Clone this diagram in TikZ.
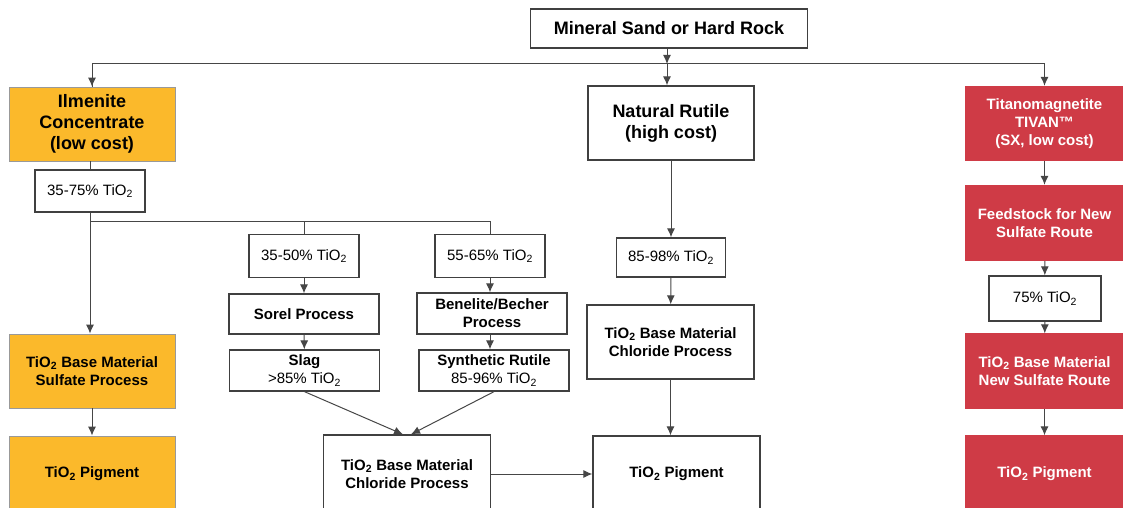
\documentclass[tikz,border=0pt]{standalone}
\usepackage{fontspec}
\setmainfont{Liberation Sans}
\usetikzlibrary{arrows.meta}
\definecolor{ilmorange}{RGB}{251,185,43}
\definecolor{tivred}{RGB}{207,59,70}
\definecolor{wire}{RGB}{70,70,70}
\newcommand{\tio}{TiO\textsubscript{2}}
\tikzset{% styles for the boxes and the arrows
    b/.style={rectangle, draw=black!75, line width=1.3pt, align=center, inner sep=2pt,
      font=\bfseries\fontsize{15}{18}\selectfont},
    bb/.style={b, font=\bfseries\fontsize{18}{21}\selectfont},
    pc/.style={b, font=\fontsize{15}{18}\selectfont, minimum width=110pt, minimum height=43pt},
    wide/.style={minimum width=166pt, minimum height=74pt},
    proc/.style={minimum width=150pt, minimum height=41pt},
    ilm/.style={fill=ilmorange, draw=black!40, line width=0.8pt},
    tiv/.style={fill=tivred, draw=tivred, text=white, minimum width=157pt, minimum height=74pt},
    e/.style={-{Latex[length=9pt, width=8pt]}, line width=1pt, draw=wire},
    w/.style={line width=1pt, draw=wire}}

\begin{document}
\begin{tikzpicture}[x=1pt,y=-1pt]
  \useasboundingbox (0,0) rectangle (1123,508);

  \node[bb, minimum width=277pt, minimum height=39pt] (src) at (669,28.5) {Mineral Sand or Hard Rock};

  % left column
  \node[bb, wide, ilm] (ilmenite) at (92,124) {Ilmenite\\Concentrate\\(low cost)};
  \node[pc, minimum height=42pt] (ti3575) at (90,191) {35-75\% \tio};
  \node[b, wide, ilm] (sulfate) at (92,371) {\tio{} Base Material\\Sulfate Process};
  \node[b, wide, ilm, minimum height=76pt] (pigL) at (92,474) {\tio{} Pigment};

  % middle columns
  \node[pc] (ti3550) at (304,256) {35-50\% \tio};
  \node[pc] (ti5565) at (490,256) {55-65\% \tio};
  \node[b, proc, minimum height=40pt] (sorel) at (304,314) {Sorel Process};
  \node[b, proc] (benelite) at (492,313.5) {Benelite/Becher\\Process};
  \node[b, proc] (slag) at (304.5,370.5) {Slag\\{\mdseries >85\% \tio}};
  \node[b, proc] (synrut) at (494,370.5) {Synthetic Rutile\\{\mdseries 85-96\% \tio}};
  \node[b, wide, minimum width=167pt, minimum height=78pt] (chlorL) at (407,474) {\tio{} Base Material\\Chloride Process};

  % rutile column
  \node[bb, wide] (rutile) at (671,123) {Natural Rutile\\(high cost)};
  \node[pc, minimum width=109pt, minimum height=39pt] (ti8598) at (671,257.5) {85-98\% \tio};
  \node[b, wide, minimum width=167pt] (chlorR) at (670.5,342) {\tio{} Base Material\\Chloride Process};
  \node[b, wide, minimum width=167pt, minimum height=76pt] (pigC) at (676.5,474) {\tio{} Pigment};

  % right column
  \node[b, tiv] (titano) at (1044.5,123.5) {Titanomagnetite\\TIVAN™\\(SX, low cost)};
  \node[b, tiv, minimum height=75pt] (feed) at (1044.5,223) {Feedstock for New\\Sulfate Route};
  \node[pc, minimum width=112pt, minimum height=45pt] (ti75) at (1045,298.5) {75\% \tio};
  \node[b, tiv] (newsulf) at (1044.5,371) {\tio{} Base Material\\New Sulfate Route};
  \node[b, tiv, minimum height=76pt] (pigR) at (1044.5,474) {\tio{} Pigment};

  \coordinate (split) at (667,64);
  \coordinate (fork) at (90,221);

  \draw[e] (src.south -| split) -- (split);
  \draw[w] (split) -| (ilmenite.north);
  \draw[e] (ilmenite.north |- split) -- (ilmenite.north);
  \draw[e] (split) -| (titano);
  \draw[e] (split) -- (split |- rutile.north);

  \draw[w] (ilmenite.south -| ti3575) -- (ti3575);
  \draw[w] (ti3575) -- (fork);
  \draw[e] (fork) -- (fork |- sulfate.north);
  \draw[w] (fork) -| (ti3550);
  \draw[w] (fork) -| (ti5565);
  \draw[e] (sulfate) -- (pigL);

  \draw[e] (ti3550) -- (sorel);
  \draw[e] (sorel) -- (slag);
  \draw[e] (ti5565.south) -- (ti5565.south |- benelite.north);
  \draw[e] (benelite.south -| ti5565) -- (synrut.north -| ti5565);
  \draw[e] (slag.south) -- ([xshift=-4pt]chlorL.north);
  \draw[e] (synrut.south) -- ([xshift=4pt]chlorL.north);
  \draw[e] (chlorL) -- (pigC);

  \draw[e] (rutile) -- (ti8598);
  \draw[e] (ti8598) -- (chlorR);
  \draw[e] (chlorR) -- (chlorR |- pigC.north);

  \draw[e] (titano) -- (feed);
  \draw[e] (feed) -- (ti75);
  \draw[e] (ti75) -- (newsulf);
  \draw[e] (newsulf) -- (pigR);
\end{tikzpicture}
\end{document}
